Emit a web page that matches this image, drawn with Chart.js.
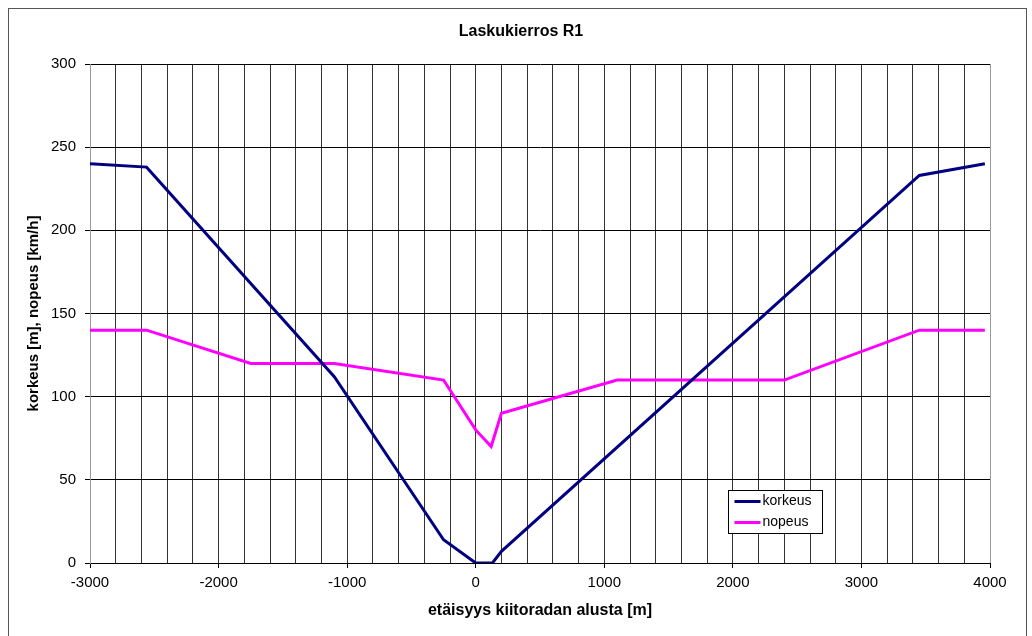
<!DOCTYPE html>
<html>
<head>
<meta charset="utf-8">
<script src="https://cdn.jsdelivr.net/npm/chart.js@4/dist/chart.umd.min.js"></script>
<style>
  body { margin: 0; background: #fff; }
  #wrap { width: 1032px; height: 636px; }
</style>
</head>
<body>
<div id="wrap"><canvas id="chart"></canvas></div>
<script>
// distance from runway start [m] and values
const korkeusX = [-3000, -2560, -1100, -250, 0, 130, 200, 3450, 3960];
const korkeusY = [240, 238, 112, 14, 0, 0, 7, 233, 240];
const nopeusX = [-3000, -2560, -1750, -1100, -250, 0, 120, 200, 1100, 2400, 3450, 3960];
const nopeusY = [140, 140, 120, 120, 110, 80, 70, 90, 110, 110, 140, 140];

const xLabels = [-3000, -2000, -1000, 0, 1000, 2000, 3000, 4000];
const yLabels = [0, 50, 100, 150, 200, 250, 300];

const chartTitle = 'Laskukierros R1';
const FONT = "'Liberation Sans', Arial, sans-serif";

function toPoints(xs, ys) {
    return xs.map((x, i) => ({ x: x, y: ys[i] }));
}

// outer frame, title over the whole frame, legend box inside the plot
const framePlugin = {
    id: 'frame',
    beforeDraw(chart) {
        const ctx = chart.ctx;
        ctx.save();
        ctx.fillStyle = '#fff';
        ctx.fillRect(0, 0, chart.width, chart.height);
        ctx.strokeStyle = '#555';
        ctx.lineWidth = 1;
        ctx.strokeRect(8.5, 8.5, 1018, 640);
        ctx.fillStyle = '#000';
        ctx.font = 'bold 16px ' + FONT;
        ctx.textAlign = 'center';
        ctx.textBaseline = 'middle';
        ctx.fillText(chartTitle, 521, 32);
        ctx.restore();
    },
    afterDraw(chart) {
        const ctx = chart.ctx;
        const bx = 728.5, by = 490.5, bw = 94, bh = 43;
        ctx.save();
        ctx.fillStyle = '#fff';
        ctx.fillRect(bx, by, bw, bh);
        ctx.strokeStyle = '#000';
        ctx.lineWidth = 1;
        ctx.strokeRect(bx, by, bw, bh);
        ctx.font = '14px ' + FONT;
        ctx.textBaseline = 'middle';
        chart.data.datasets.forEach((ds, i) => {
            const y = by + 11 + i * 21;
            ctx.strokeStyle = ds.borderColor;
            ctx.lineWidth = 3;
            ctx.beginPath();
            ctx.moveTo(bx + 6, y);
            ctx.lineTo(bx + 32, y);
            ctx.stroke();
            ctx.fillStyle = '#000';
            ctx.fillText(ds.label, bx + 34, y);
        });
        ctx.restore();
    }
};

new Chart(document.getElementById('chart'), {
    type: 'line',
    data: {
        datasets: [{
            label: 'korkeus',
            data: toPoints(korkeusX, korkeusY),
            borderColor: '#000080',
            borderWidth: 3,
            pointRadius: 0,
            tension: 0
        }, {
            label: 'nopeus',
            data: toPoints(nopeusX, nopeusY),
            borderColor: '#ff00ff',
            borderWidth: 3,
            pointRadius: 0,
            tension: 0
        }]
    },
    options: {
        responsive: true,
        maintainAspectRatio: false,
        animation: false,
        layout: { padding: { left: 0, right: 42, top: 64, bottom: 0 } },
        plugins: {
            legend: { display: false },
            tooltip: { enabled: false },
            title: { display: false }
        },
        scales: {
            x: {
                type: 'linear',
                min: -3000,
                max: 4000,
                afterFit: s => { s.height = 73; },
                ticks: {
                    stepSize: 200,
                    autoSkip: false,
                    maxRotation: 0,
                    color: '#000',
                    padding: 6,
                    font: { family: FONT, size: 15 },
                    callback: v => xLabels.includes(v) ? String(v) : ''
                },
                grid: {
                    color: c => (c.tick && (c.tick.value === -3000 || c.tick.value === 4000)) ? '#999' : '#333',
                    tickColor: c => (c.tick && xLabels.includes(c.tick.value)) ? '#000' : 'rgba(0,0,0,0)',
                    tickLength: 5
                },
                border: { color: '#000' },
                title: {
                    display: true,
                    text: 'etäisyys kiitoradan alusta [m]',
                    color: '#000',
                    font: { family: FONT, size: 16, weight: 'bold' },
                    padding: { top: 0, bottom: 16 }
                }
            },
            y: {
                min: 0,
                max: 300,
                afterFit: s => { s.width = 90; },
                ticks: {
                    stepSize: 50,
                    color: '#000',
                    padding: 9,
                    font: { family: FONT, size: 15 },
                    callback: v => yLabels.includes(v) ? String(v) : ''
                },
                grid: {
                    color: '#000',
                    tickColor: '#000',
                    tickLength: 5
                },
                border: { color: '#999' },
                title: {
                    display: true,
                    text: 'korkeus [m], nopeus [km/h]',
                    color: '#000',
                    font: { family: FONT, size: 15, weight: 'bold' },
                    padding: { top: 25, bottom: 0 }
                }
            }
        }
    },
    plugins: [framePlugin]
});
</script>
</body>
</html>
